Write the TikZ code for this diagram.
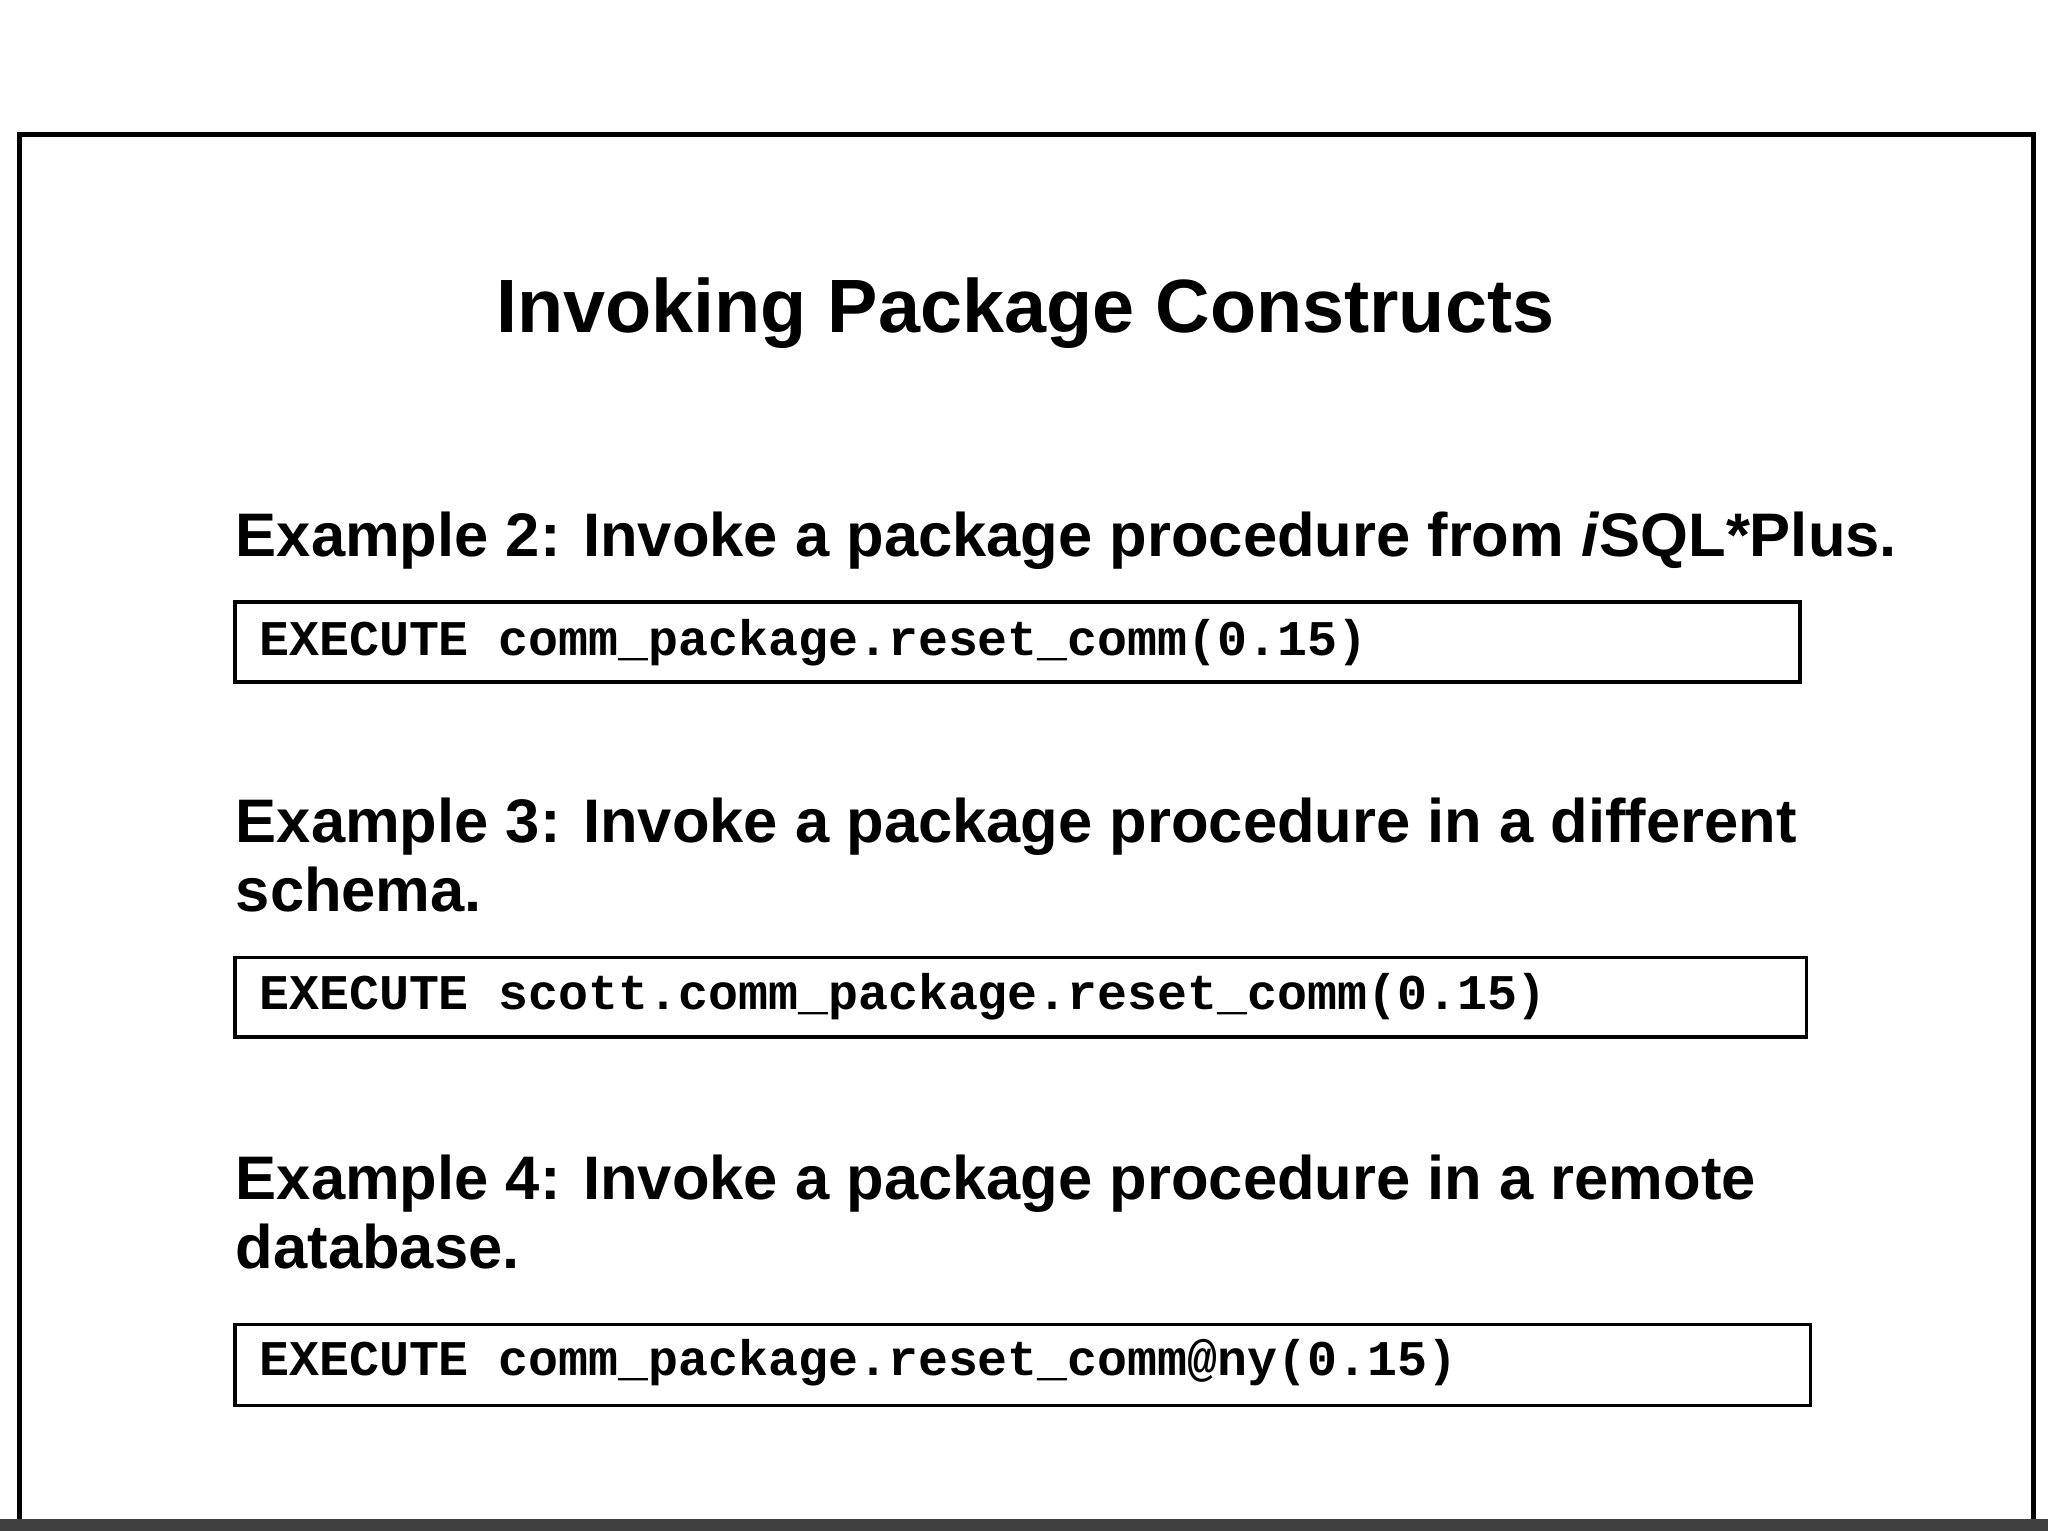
\documentclass[tikz,border=0pt]{standalone}
\usepackage{fontspec}
\setmainfont{Liberation Sans}
\setmonofont{Liberation Mono}
\usetikzlibrary{positioning}

\tikzset{
  heading/.style={anchor=base west, inner sep=0pt, font=\fontsize{17.5}{20}\selectfont\bfseries},
  codebox/.style={draw, line width=1pt},
  code/.style={anchor=base west, inner sep=0pt, font=\fontsize{14.2}{16}\selectfont\ttfamily\bfseries}
}

\begin{document}
\begin{tikzpicture}[x=0.01306cm, y=-0.01306cm]

\useasboundingbox (0,0) rectangle (1568,1172);
\fill[white] (0,0) rectangle (1568,1172);

% frame and bottom bar
\draw[line width=1.3pt] (15,1165) -- (15,103) -- (1557,103) -- (1557,1165);
\fill[black!75] (0,1163) rectangle (1568,1172);

\node (title) at (785,240) {\fontsize{21.5}{24}\selectfont\bfseries Invoking Package Constructs};

\node[heading] (ex2) at (180,426) {Example 2: Invoke a package procedure from \textit{i}SQL*Plus.};
\draw[codebox] (180,461) rectangle (1378,522);
\node[code] (code2) at (198,502) {EXECUTE comm\_package.reset\_comm(0.15)};

\node[heading] (ex3a) at (180,645) {Example 3: Invoke a package procedure in a different};
\node[heading] (ex3b) at (180,698) {schema.};
\draw[codebox] (180,733) rectangle (1383,794);
\node[code] (code3) at (198,773) {EXECUTE scott.comm\_package.reset\_comm(0.15)};

\node[heading] (ex4a) at (180,918) {Example 4: Invoke a package procedure in a remote};
\node[heading] (ex4b) at (180,971) {database.};
\draw[codebox] (180,1014) rectangle (1386,1076);
\node[code] (code4) at (198,1053) {EXECUTE comm\_package.reset\_comm@ny(0.15)};

\end{tikzpicture}
\end{document}
